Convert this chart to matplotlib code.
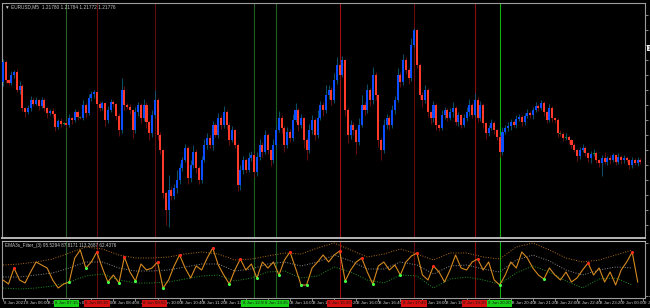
import numpy as np
import matplotlib
matplotlib.use("Agg")
import matplotlib.pyplot as plt
from matplotlib.transforms import blended_transform_factory

# ---------------- data ----------------
# EURUSD M5 close prices, in 1e-5 units
first_open_points = 121936
close_points = [
    121976, 121940, 121934, 121950, 121956, 121920, 121928, 121884, 121876, 121884,
    121900, 121892, 121900, 121888, 121900, 121884, 121874, 121878, 121872, 121846,
    121858, 121852, 121854, 121850, 121864, 121860, 121876, 121866, 121864, 121890,
    121874, 121904, 121912, 121916, 121892, 121884, 121894, 121860, 121880, 121896,
    121892, 121868, 121840, 121920, 121890, 121886, 121880, 121840, 121876, 121890,
    121864, 121890, 121856, 121834, 121870, 121900, 121830, 121800, 121714, 121680,
    121720, 121708, 121724, 121740, 121764, 121780, 121804, 121744, 121770, 121796,
    121764, 121740, 121780, 121810, 121824, 121810, 121850, 121830, 121864, 121850,
    121876, 121850, 121820, 121840, 121810, 121730, 121760, 121780, 121760, 121784,
    121790, 121756, 121786, 121810, 121796, 121830, 121800, 121780, 121810, 121840,
    121864, 121844, 121810, 121836, 121824, 121860, 121880, 121850, 121864, 121820,
    121800, 121840, 121860, 121830, 121864, 121890, 121880, 121910, 121920, 121900,
    121940, 121970, 121950, 121980, 121880, 121830, 121850, 121840, 121816, 121850,
    121890, 121880, 121920, 121900, 121950, 121910, 121820, 121800, 121850, 121864,
    121850, 121880, 121900, 121950, 121936, 121980, 121960, 121944, 122010, 122040,
    121970, 121910, 121900, 121920, 121876, 121864, 121890, 121850, 121844, 121870,
    121880, 121864, 121876, 121884, 121856, 121870, 121850, 121864, 121876, 121890,
    121870, 121900, 121864, 121890, 121854, 121834, 121844, 121854, 121840, 121826,
    121796, 121836, 121844, 121848, 121856, 121850, 121862, 121866, 121856, 121868,
    121874, 121870, 121880, 121888, 121884, 121894, 121876, 121860, 121884, 121864,
    121860, 121834, 121832, 121824, 121826, 121820, 121810, 121800, 121788, 121800,
    121804, 121794, 121784, 121792, 121794, 121780, 121774, 121784, 121776, 121784,
    121780, 121790, 121776, 121786, 121780, 121784, 121780, 121770, 121780, 121774,
    121780, 121776,
]
upper_wick_points = [
    6, 4, 2, 8, 4, 6, 10, 4, 2, 6,
    8, 4, 6, 2, 6, 4, 2, 4, 6, 2,
    4, 6, 2, 4, 8, 2, 6, 4, 2, 10,
    4, 8, 6, 4, 2, 6, 4, 2, 8, 6,
    4, 2, 6, 24, 8, 4, 6, 2, 10, 6,
    4, 12, 6, 2, 10, 20, 4, 6, 2, 4,
    30, 6, 8, 20, 10, 6, 8, 4, 10, 14,
    6, 4, 8, 12, 10, 6, 8, 4, 10, 6,
    12, 4, 6, 8, 2, 4, 10, 8, 4, 12,
    8, 4, 10, 12, 6, 10, 4, 2, 12, 10,
    14, 6, 4, 10, 6, 12, 14, 4, 8, 2,
    4, 12, 10, 4, 16, 8, 6, 20, 10, 6,
    14, 16, 6, 8, 2, 4, 10, 6, 4, 14,
    20, 6, 12, 4, 16, 6, 2, 4, 12, 8,
    6, 10, 8, 14, 6, 12, 6, 4, 14, 4,
    2, 4, 6, 10, 4, 2, 8, 4, 2, 10,
    6, 4, 8, 12, 4, 6, 2, 8, 10, 12,
    4, 14, 6, 8, 4, 2, 6, 8, 4, 2,
    4, 10, 6, 8, 6, 4, 8, 6, 4, 6,
    8, 4, 6, 8, 4, 6, 4, 2, 8, 4,
    2, 4, 6, 4, 8, 4, 2, 4, 2, 6,
    8, 4, 2, 6, 8, 4, 2, 6, 12, 4,
    6, 4, 2, 8, 4, 6, 4, 2, 6, 4,
    6, 4,
]
lower_wick_points = [
    8, 6, 4, 4, 6, 4, 8, 6, 10, 4,
    6, 4, 2, 8, 4, 6, 10, 4, 6, 8,
    4, 6, 2, 6, 4, 8, 4, 6, 2, 4,
    10, 4, 6, 8, 4, 6, 4, 12, 6, 4,
    6, 8, 12, 6, 10, 4, 8, 16, 6, 8,
    10, 6, 12, 14, 8, 6, 10, 8, 10, 30,
    34, 8, 6, 10, 8, 6, 4, 12, 8, 6,
    10, 8, 6, 4, 8, 6, 10, 4, 6, 8,
    6, 8, 10, 4, 6, 12, 10, 8, 6, 4,
    6, 10, 8, 6, 10, 4, 8, 12, 6, 8,
    4, 10, 14, 6, 8, 6, 4, 12, 6, 16,
    20, 6, 8, 10, 6, 4, 12, 6, 8, 10,
    6, 8, 10, 4, 12, 16, 8, 10, 24, 6,
    4, 10, 6, 12, 8, 10, 14, 20, 6, 8,
    10, 6, 8, 4, 10, 6, 8, 12, 6, 4,
    6, 8, 14, 6, 10, 12, 8, 10, 6, 4,
    8, 6, 4, 10, 6, 8, 6, 4, 6, 8,
    6, 4, 8, 6, 10, 12, 6, 4, 8, 6,
    10, 6, 4, 6, 8, 4, 6, 4, 8, 6,
    4, 6, 8, 4, 6, 4, 8, 6, 4, 8,
    6, 8, 4, 6, 4, 8, 6, 4, 10, 6,
    4, 6, 8, 10, 4, 6, 8, 26, 4, 6,
    8, 4, 6, 4, 8, 6, 4, 8, 6, 4,
    6, 4,
]

# indicator: oscillator (one value every 2 bars) and its bands (every 6 bars)
osc_values = [
    32, 24, 56, 32, 26, 48, 68, 62, 56, 32,
    16, 24, 28, 76, 92, 56, 68, 88, 56, 28,
    42, 26, 78, 48, 30, 64, 52, 56, 68, 16,
    32, 60, 82, 56, 36, 60, 52, 76, 96, 62,
    42, 24, 52, 74, 52, 64, 36, 68, 56, 68,
    42, 72, 88, 56, 22, 22, 56, 68, 82, 68,
    82, 90, 30, 52, 68, 76, 48, 24, 60, 68,
    52, 62, 42, 68, 80, 86, 42, 32, 60, 48,
    28, 52, 82, 56, 52, 68, 74, 52, 68, 32,
    22, 42, 68, 56, 88, 76, 56, 42, 34, 56,
    42, 32, 48, 28, 36, 52, 66, 42, 56, 28,
    48, 22, 52, 68, 88, 28,
]
band_upper = [62, 64, 68, 74, 86, 98, 94, 82, 76, 76, 78, 84, 88, 84, 72, 74, 80, 86, 84, 96,
              106, 92, 78, 84, 94, 84, 72, 86, 86, 78, 74, 98, 106, 92, 76, 68, 72, 82, 92]
band_middle = [38, 38, 42, 46, 56, 68, 68, 56, 50, 50, 52, 58, 64, 64, 50, 54, 64, 68, 60, 68,
               82, 70, 54, 54, 68, 62, 44, 60, 62, 54, 48, 72, 82, 70, 52, 42, 52, 58, 56]
band_lower = [16, 14, 16, 20, 28, 40, 44, 32, 26, 26, 28, 34, 40, 42, 30, 36, 48, 50, 36, 40,
              58, 48, 32, 26, 42, 40, 16, 34, 38, 32, 24, 46, 60, 48, 30, 16, 34, 36, 22]
peak_marks = [2, 17, 22, 28, 32, 38, 43, 52, 61, 65, 75, 78, 86, 106, 114]
trough_marks = [12, 15, 19, 21, 24, 29, 41, 46, 50, 54, 55, 62, 67, 72, 90, 98]

# vertical event lines (bar index), their colours and time tags
event_bars = [23, 34, 55, 91, 99, 122, 149, 171, 180]
event_kind = ["buy", "sell", "sell", "buy", "buy", "sell", "sell", "sell", "buy"]
event_times = ["8 Jun 07:15", "8 Jun 08:10", "8 Jun 09:55", "8 Jun 12:55", "8 Jun 13:35",
               "8 Jun 15:30", "8 Jun 17:45", "8 Jun 19:35", "8 Jun 20:20"]
event_line_colors = ["#2a5e2a", "#600d0d", "#600d0d", "#1f5f1f", "#1f5f1f",
                     "#a01010", "#6a0c0c", "#8a0c0c", "#12b012"]

# time axis labels (every 8 bars)
time_label_bars = list(range(0, 240, 8))
time_labels = ["8 Jun 2021", "8 Jun 06:00", "8 Jun 06:40", "8 Jun 07:20", "8 Jun 08:00",
               "8 Jun 08:40", "8 Jun 09:20", "8 Jun 10:00", "8 Jun 10:40", "8 Jun 11:20",
               "8 Jun 12:00", "8 Jun 12:40", "8 Jun 13:20", "8 Jun 14:00", "8 Jun 14:40",
               "8 Jun 15:20", "8 Jun 16:00", "8 Jun 16:40", "8 Jun 17:20", "8 Jun 18:00",
               "8 Jun 18:40", "8 Jun 19:20", "8 Jun 20:00", "8 Jun 20:40", "8 Jun 21:20",
               "8 Jun 22:00", "8 Jun 22:40", "8 Jun 23:20", "9 Jun 00:00", "9 Jun 00:40"]
price_ticks = [1.22070, 1.22040, 1.22010, 1.21980, 1.21950, 1.21920, 1.21890, 1.21860,
               1.21830, 1.21800, 1.21770, 1.21740, 1.21710, 1.21680, 1.21650]
price_tick_labels = ["1.22070", "1.22040", "1.22010", "1.21980", "1.21950", "1.21920",
                     "1.21890", "1.21860", "1.21830", "1.21800", "1.21770", "1.21740",
                     "1.21710", "1.21680", "1.21650"]
marker_price = 1.22004
header = "\u25bc EURUSD,M5  1.21780 1.21784 1.21772 1.21776"
ind_header = "EMA3s_Filter_(3) 95.5294 87.8171 113.2687 62.4376"

# ---------------- derived ----------------
close = np.array(close_points) / 1e5
opens = np.concatenate([[first_open_points], close_points[:-1]]) / 1e5
high = np.maximum(opens, close) + np.array(upper_wick_points) / 1e5
low = np.minimum(opens, close) - np.array(lower_wick_points) / 1e5
n = len(close)
idx = np.arange(n)

BG = "black"
AX_COL = "#9c9c9c"
TXT = "#c8c8c8"
SMALL_FONT = ["Liberation Sans", "DejaVu Sans"]

W, H = 650, 308
fig = plt.figure(figsize=(W / 100, H / 100), dpi=100, facecolor=BG)
ax = fig.add_axes([2 / W, 1 - 238 / H, 643 / W, 235 / H], facecolor=BG)
ax2 = fig.add_axes([2 / W, 1 - 298 / H, 643 / W, 57 / H], facecolor=BG)

xmin, xmax = -0.36, 232.64
for a in (ax, ax2):
    a.set_xlim(xmin, xmax)
    for s in a.spines.values():
        s.set_color(AX_COL)
        s.set_linewidth(0.8)

# ---- main candles ----
bull = close > opens
doji = np.abs(close - opens) <= 2.5e-5
body_col = np.where(doji, "#1f8a1f", np.where(bull, "#0b4dff", "#ff3a2a"))
wick_col = np.where(bull, "#0d5d7c", "#7a1010")
ax.vlines(idx, low, high, colors=wick_col, linewidth=0.6, zorder=2)
body_h = close - opens
body_h = np.where(np.abs(body_h) < 1.2e-5, 1.2e-5, body_h)
ax.bar(idx, body_h, bottom=opens, width=0.74, color=body_col, linewidth=0, zorder=3)

ax.set_ylim(1.21624, 1.22094)
ax.yaxis.tick_right()
ax.set_yticks(price_ticks)
ax.set_yticklabels(price_tick_labels, fontfamily=SMALL_FONT)
ax.tick_params(axis="y", colors=AX_COL, labelcolor=TXT, labelsize=3.6, length=2, pad=1, width=0.6)
ax.set_xticks([])
ax.spines["bottom"].set_color("#b8b8b8")
ax.spines["bottom"].set_linewidth(1.4)

ax.text(1.004, marker_price, "1.22004", transform=blended_transform_factory(ax.transAxes, ax.transData),
        fontsize=3.4, family=SMALL_FONT, color="black", va="center", ha="left", clip_on=False,
        bbox=dict(boxstyle="square,pad=0.15", fc="#e8e8e8", ec="none"))

# ---- event lines ----
for b, c in zip(event_bars, event_line_colors):
    ax.axvline(b, color=c, linewidth=0.8, zorder=1)
    ax2.axvline(b, color=c, linewidth=0.8, zorder=1)

# ---- indicator ----
ax2.set_ylim(-4, 110)
band_x = np.arange(0, 6 * len(band_upper), 6)
ax2.plot(band_x, band_upper, color="#b5701a", linestyle=(0, (1, 1.6)), linewidth=0.7)
ax2.plot(band_x, band_middle, color="#8c8c8c", linestyle=(0, (1, 1.6)), linewidth=0.7)
ax2.plot(band_x, band_lower, color="#239123", linestyle=(0, (1, 1.6)), linewidth=0.7)
osc_x = np.arange(0, 2 * len(osc_values), 2)
osc = np.array(osc_values)
ax2.plot(osc_x, osc, color="#d68a1f", linewidth=0.8, zorder=3)
ax2.scatter(osc_x[peak_marks], osc[peak_marks], s=5, color="#ff2a1a", zorder=4, linewidths=0)
ax2.scatter(osc_x[trough_marks], osc[trough_marks], s=5, color="#45ff45", zorder=4, linewidths=0)

ax2.yaxis.tick_right()
ax2.set_yticks([106, 0])
ax2.set_yticklabels(["113.2687", "-4.0615"], fontfamily=SMALL_FONT)
ax2.tick_params(axis="y", colors=AX_COL, labelcolor=TXT, labelsize=3.4, length=2, pad=1, width=0.6)
ax2.set_xticks(time_label_bars)
ax2.set_xticklabels([])
ax2.tick_params(axis="x", colors=AX_COL, length=2, width=0.6)
ax2.spines["top"].set_color("#b8b8b8")

# time labels
tr = blended_transform_factory(ax2.transData, fig.transFigure)
ty = 1 - 303.5 / H
for b, lab in zip(time_label_bars, time_labels):
    ax2.text(b + 0.4, ty, lab, transform=tr, fontsize=3.15, family=SMALL_FONT, color=TXT,
             ha="left", va="center", clip_on=False)
for b, k, lab in zip(event_bars, event_kind, event_times):
    fc = "#19d019" if k == "buy" else "#d41010"
    ax2.text(b, ty, lab, transform=tr, fontsize=3.15, family=SMALL_FONT, color="#1a1a1a",
             ha="center", va="center", clip_on=False, zorder=6,
             bbox=dict(boxstyle="square,pad=0.3", fc=fc, ec="none"))

fig.text(5 / W, 1 - 7 / H, header, fontsize=3.4, family=SMALL_FONT, color=TXT, ha="left", va="center")
fig.text(5 / W, 1 - 245.5 / H, ind_header, fontsize=3.3, family=SMALL_FONT, color=TXT,
         ha="left", va="center")

fig.savefig("out.png", dpi=100, facecolor=BG)
